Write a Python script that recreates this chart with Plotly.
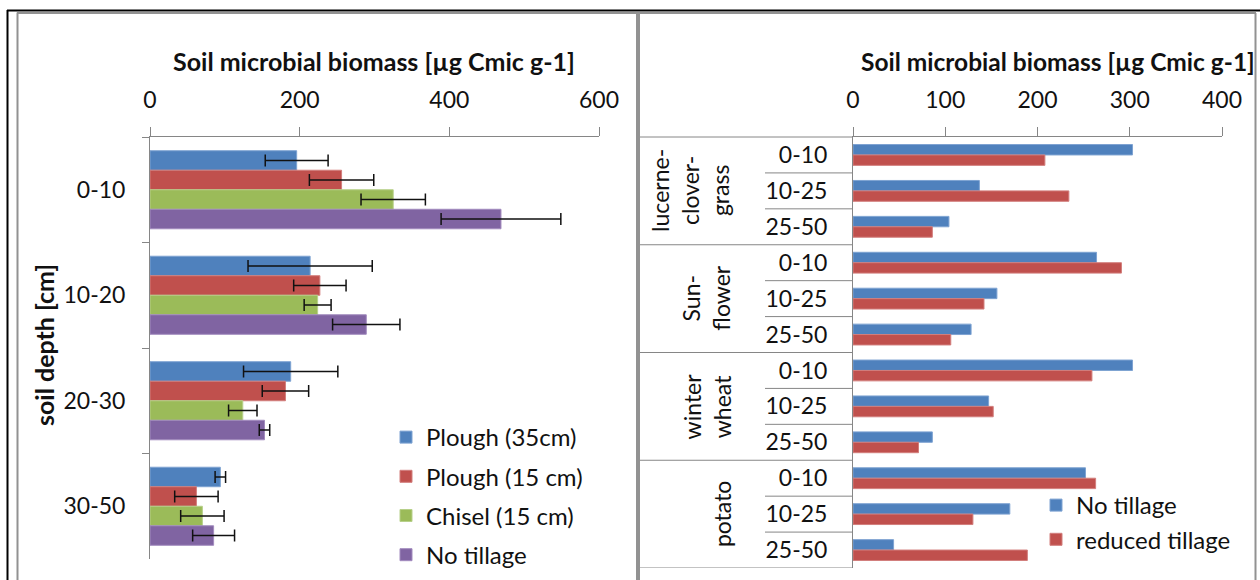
import plotly.graph_objects as go
import numpy as np

W, H = 1260, 580

# ---------------- data ----------------
# Left chart: tillage treatments by soil depth
depths_left = ["0-10", "10-20", "20-30", "30-50"]
treatments = ["Plough (35cm)", "Plough (15 cm)", "Chisel (15 cm)", "No tillage"]
plough35 = [196, 214, 188, 94]
plough15 = [256, 227, 181, 62]
chisel15 = [325, 224, 124, 70]
no_till_left = [469, 289, 153, 85]
err_plough35 = [42, 83, 63, 7]
err_plough15 = [43, 35, 31, 29]
err_chisel15 = [43, 18, 19, 29]
err_no_till_left = [80, 45, 7, 28]

# Right chart: crops x depth
crops = ["lucerne-<br>clover-<br>grass", "Sun-<br>flower", "winter<br>wheat", "potato"]
depths_right = ["0-10", "10-25", "25-50"]
no_tillage = [303, 137, 104, 264, 156, 128, 303, 147, 86, 252, 170, 44]
reduced_tillage = [208, 234, 86, 291, 142, 106, 259, 152, 71, 263, 130, 189]

left_title = "Soil microbial biomass [µg Cmic g-1]"
right_title = "Soil microbial biomass [µg Cmic g-1]"
ytitle_left = "soil depth [cm]"

colors4 = ["#4F81BD", "#C0504D", "#9BBB59", "#8064A2"]
edge4 = ["#7EA3D2", "#D27E7C", "#B7D08A", "#A28BBE"]

FONT = "Lato, 'Open Sans', sans-serif"
AX = "#868686"
FRAME = "#929292"
TXT = "#111111"


def px(x):
    return x / W


def py(y):
    return 1 - y / H


fig = go.Figure()

left_vals = [plough35, plough15, chisel15, no_till_left]
left_errs = [err_plough35, err_plough15, err_chisel15, err_no_till_left]
for name, vals, errs, c, e in zip(treatments, left_vals, left_errs, colors4, edge4):
    fig.add_trace(go.Bar(
        y=depths_left, x=vals, orientation="h", name=name,
        marker=dict(color=c, line=dict(color=e, width=1)),
        error_x=dict(type="data", array=errs, color=TXT, thickness=1.5, width=6),
        xaxis="x", yaxis="y", legend="legend", legendgroup=name,
    ))

n_right = len(crops) * len(depths_right)
pos = np.arange(n_right)
depth_labels = depths_right * len(crops)
bw = 0.29
for name, vals, c, e, off in [("No tillage", no_tillage, colors4[0], edge4[0], -bw),
                              ("reduced tillage", reduced_tillage, colors4[1], edge4[1], 0.0)]:
    fig.add_trace(go.Bar(
        y=pos, x=vals, orientation="h", name=name,
        width=bw, offset=off,
        marker=dict(color=c, line=dict(color=e, width=1)),
        xaxis="x2", yaxis="y2", legend="legend2", legendgroup=name,
    ))

tickfont = dict(family=FONT, size=23, color=TXT)

shapes = []
# outer frame
shapes.append(dict(type="line", xref="paper", yref="paper", x0=px(7.5), x1=px(7.5), y0=py(10), y1=py(580), line=dict(color="black", width=2)))
shapes.append(dict(type="line", xref="paper", yref="paper", x0=px(7), x1=px(1260), y0=py(10.5), y1=py(10.5), line=dict(color="black", width=2)))
shapes.append(dict(type="line", xref="paper", yref="paper", x0=px(17.5), x1=px(17.5), y0=py(12.5), y1=py(580), line=dict(color=FRAME, width=2)))
shapes.append(dict(type="line", xref="paper", yref="paper", x0=px(17), x1=px(1256), y0=py(13), y1=py(13), line=dict(color=FRAME, width=2)))
shapes.append(dict(type="line", xref="paper", yref="paper", x0=px(638), x1=px(638), y0=py(13), y1=py(580), line=dict(color=FRAME, width=4)))
shapes.append(dict(type="line", xref="paper", yref="paper", x0=px(1255.5), x1=px(1255.5), y0=py(13), y1=py(580), line=dict(color=FRAME, width=2)))

# right chart category table lines
shapes.append(dict(type="line", xref="paper", yref="paper", x0=px(640), x1=px(853), y0=py(137), y1=py(137), line=dict(color=AX, width=1)))
for k in range(1, n_right + 1):
    yb = k - 0.5
    x0 = 640 if k % len(depths_right) == 0 else 765
    shapes.append(dict(type="line", xref="paper", yref="y2", x0=px(x0), x1=px(853), y0=yb, y1=yb, line=dict(color=AX, width=1)))

annotations = []
annotations.append(dict(text="<b>" + left_title + "</b>", xref="paper", yref="paper", x=px(374), y=py(61), xanchor="center", yanchor="middle", showarrow=False, font=dict(family=FONT, size=25, color=TXT)))
annotations.append(dict(text="<b>" + right_title + "</b>", xref="paper", yref="paper", x=px(859), y=py(61), xanchor="left", yanchor="middle", showarrow=False, font=dict(family=FONT, size=24.5, color=TXT)))
annotations.append(dict(text="<b>" + ytitle_left + "</b>", xref="paper", yref="paper", x=px(44), y=py(345), xanchor="center", yanchor="middle", textangle=-90, showarrow=False, font=dict(family=FONT, size=25, color=TXT)))

crop_x = [690, 706, 707, 722]
for i, (crop, cx) in enumerate(zip(crops, crop_x)):
    yc = i * len(depths_right) + (len(depths_right) - 1) / 2
    annotations.append(dict(text=crop, xref="paper", yref="y2", x=px(cx), y=yc, xanchor="center", yanchor="middle", textangle=-90, showarrow=False, font=dict(family=FONT, size=23, color=TXT)))

fig.update_layout(
    width=W, height=H, margin=dict(l=0, r=0, t=0, b=0, pad=0, autoexpand=False),
    paper_bgcolor="white", plot_bgcolor="rgba(0,0,0,0)",
    barmode="group", bargap=0.26, bargroupgap=0,
    font=dict(family=FONT, size=22, color=TXT),
    xaxis=dict(domain=[px(150), px(599)], range=[0, 600], dtick=200, side="top", anchor="y",
               showline=True, linecolor=AX, linewidth=1, ticks="outside", ticklen=9, tickcolor=AX,
               showgrid=False, zeroline=False, tickfont=tickfont, ticklabelstandoff=10, fixedrange=True),
    yaxis=dict(domain=[py(559), py(137)], autorange="reversed", type="category",
               categoryorder="array", categoryarray=depths_left, anchor="x",
               showline=True, linecolor=AX, linewidth=1, ticks="outside", ticklen=7, tickcolor=AX,
               tickson="boundaries", showgrid=False, zeroline=False, tickfont=tickfont, ticklabelstandoff=19),
    xaxis2=dict(domain=[px(853), px(1222)], range=[0, 400], dtick=100, side="top", anchor="y2",
                showline=True, linecolor=AX, linewidth=1, ticks="outside", ticklen=9, tickcolor=AX,
                showgrid=False, zeroline=False, tickfont=tickfont, ticklabelstandoff=10),
    yaxis2=dict(domain=[py(568), py(137)], range=[n_right - 0.5, -0.5], anchor="x2",
                tickvals=list(pos), ticktext=depth_labels,
                showline=True, linecolor=AX, linewidth=1, ticks="", showgrid=False, zeroline=False,
                tickfont=tickfont, ticklabelstandoff=20),
    legend=dict(x=px(386), y=py(415), xanchor="left", yanchor="top", bgcolor="rgba(0,0,0,0)",
                font=dict(family=FONT, size=24, color=TXT), tracegroupgap=5, traceorder="grouped",
                itemclick=False, itemdoubleclick=False),
    legend2=dict(x=px(1036), y=py(483), xanchor="left", yanchor="top", bgcolor="rgba(0,0,0,0)",
                 font=dict(family=FONT, size=24, color=TXT), tracegroupgap=0, traceorder="grouped",
                 itemclick=False, itemdoubleclick=False),
    shapes=shapes, annotations=annotations,
    showlegend=True,
)

fig.write_html("out.html", post_script="document.body.style.margin='0';document.body.style.padding='0';",
               config={"displayModeBar": False})
